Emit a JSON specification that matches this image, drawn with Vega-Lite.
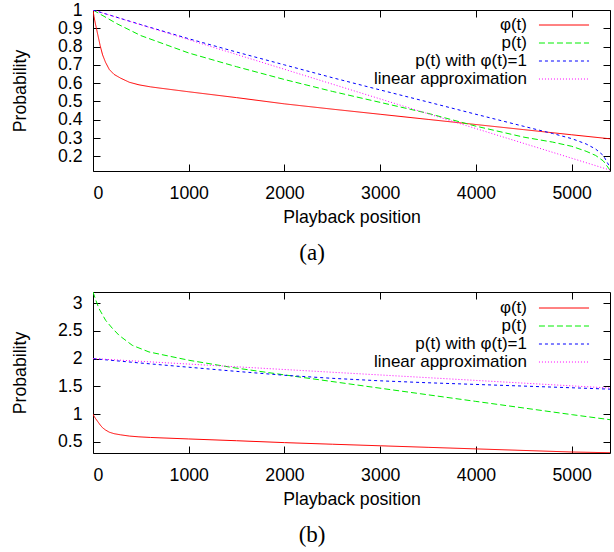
{
  "$schema": "https://vega.github.io/schema/vega-lite/v6.json",
  "padding": {"left": 10, "top": 0, "right": 0, "bottom": 0},
  "spacing": 22,
  "config": {
    "font": "Liberation Sans",
    "view": {"stroke": "#000000", "strokeWidth": 1},
    "axis": {
      "labelFont": "Liberation Sans", "labelFontSize": 17.7, "labelColor": "#000000",
      "titleFont": "Liberation Sans", "titleFontSize": 17.7, "titleFontWeight": "normal", "titleColor": "#000000",
      "domain": false, "grid": false, "tickColor": "#000000", "tickSize": -7, "tickWidth": 1
    }
  },
  "datasets": {
    "legend": [{"series": "φ(t)"}, {"series": "p(t)"}, {"series": "p(t) with φ(t)=1"}, {"series": "linear approximation"}],
    "a": [
      {"series": "φ(t)", "t": 0, "v": 1.0}, {"series": "φ(t)", "t": 10, "v": 0.965}, {"series": "φ(t)", "t": 25, "v": 0.925}, {"series": "φ(t)", "t": 50, "v": 0.865}, {"series": "φ(t)", "t": 75, "v": 0.805}, {"series": "φ(t)", "t": 100, "v": 0.755}, {"series": "φ(t)", "t": 130, "v": 0.715}, {"series": "φ(t)", "t": 170, "v": 0.675}, {"series": "φ(t)", "t": 220, "v": 0.648}, {"series": "φ(t)", "t": 290, "v": 0.627}, {"series": "φ(t)", "t": 380, "v": 0.605}, {"series": "φ(t)", "t": 480, "v": 0.591}, {"series": "φ(t)", "t": 600, "v": 0.58}, {"series": "φ(t)", "t": 700, "v": 0.573}, {"series": "φ(t)", "t": 1000, "v": 0.553}, {"series": "φ(t)", "t": 1500, "v": 0.521}, {"series": "φ(t)", "t": 2000, "v": 0.487}, {"series": "φ(t)", "t": 2500, "v": 0.458}, {"series": "φ(t)", "t": 3000, "v": 0.43}, {"series": "φ(t)", "t": 3500, "v": 0.402}, {"series": "φ(t)", "t": 4000, "v": 0.374}, {"series": "φ(t)", "t": 4500, "v": 0.346}, {"series": "φ(t)", "t": 5000, "v": 0.318}, {"series": "φ(t)", "t": 5400, "v": 0.296},
      {"series": "p(t)", "t": 0, "v": 1.0}, {"series": "p(t)", "t": 250, "v": 0.925}, {"series": "p(t)", "t": 500, "v": 0.86}, {"series": "p(t)", "t": 1000, "v": 0.765}, {"series": "p(t)", "t": 1500, "v": 0.69}, {"series": "p(t)", "t": 2000, "v": 0.62}, {"series": "p(t)", "t": 2500, "v": 0.555}, {"series": "p(t)", "t": 3000, "v": 0.495}, {"series": "p(t)", "t": 3500, "v": 0.435}, {"series": "p(t)", "t": 4000, "v": 0.365}, {"series": "p(t)", "t": 4500, "v": 0.305}, {"series": "p(t)", "t": 4800, "v": 0.278}, {"series": "p(t)", "t": 5000, "v": 0.255}, {"series": "p(t)", "t": 5150, "v": 0.228}, {"series": "p(t)", "t": 5250, "v": 0.205}, {"series": "p(t)", "t": 5330, "v": 0.175}, {"series": "p(t)", "t": 5400, "v": 0.125},
      {"series": "p(t) with φ(t)=1", "t": 0, "v": 1.0}, {"series": "p(t) with φ(t)=1", "t": 500, "v": 0.92}, {"series": "p(t) with φ(t)=1", "t": 1000, "v": 0.843}, {"series": "p(t) with φ(t)=1", "t": 1500, "v": 0.77}, {"series": "p(t) with φ(t)=1", "t": 2000, "v": 0.7}, {"series": "p(t) with φ(t)=1", "t": 2500, "v": 0.63}, {"series": "p(t) with φ(t)=1", "t": 3000, "v": 0.563}, {"series": "p(t) with φ(t)=1", "t": 3500, "v": 0.497}, {"series": "p(t) with φ(t)=1", "t": 4000, "v": 0.43}, {"series": "p(t) with φ(t)=1", "t": 4500, "v": 0.364}, {"series": "p(t) with φ(t)=1", "t": 4800, "v": 0.325}, {"series": "p(t) with φ(t)=1", "t": 5000, "v": 0.297}, {"series": "p(t) with φ(t)=1", "t": 5150, "v": 0.268}, {"series": "p(t) with φ(t)=1", "t": 5250, "v": 0.24}, {"series": "p(t) with φ(t)=1", "t": 5330, "v": 0.205}, {"series": "p(t) with φ(t)=1", "t": 5400, "v": 0.14},
      {"series": "linear approximation", "t": 0, "v": 1.0}, {"series": "linear approximation", "t": 5400, "v": 0.125}
    ],
    "b": [
      {"series": "φ(t)", "t": 0, "v": 1.0}, {"series": "φ(t)", "t": 10, "v": 0.965}, {"series": "φ(t)", "t": 25, "v": 0.925}, {"series": "φ(t)", "t": 50, "v": 0.865}, {"series": "φ(t)", "t": 75, "v": 0.805}, {"series": "φ(t)", "t": 100, "v": 0.755}, {"series": "φ(t)", "t": 130, "v": 0.715}, {"series": "φ(t)", "t": 170, "v": 0.675}, {"series": "φ(t)", "t": 220, "v": 0.648}, {"series": "φ(t)", "t": 290, "v": 0.627}, {"series": "φ(t)", "t": 380, "v": 0.605}, {"series": "φ(t)", "t": 480, "v": 0.591}, {"series": "φ(t)", "t": 600, "v": 0.58}, {"series": "φ(t)", "t": 700, "v": 0.573}, {"series": "φ(t)", "t": 1000, "v": 0.553}, {"series": "φ(t)", "t": 1500, "v": 0.521}, {"series": "φ(t)", "t": 2000, "v": 0.487}, {"series": "φ(t)", "t": 2500, "v": 0.458}, {"series": "φ(t)", "t": 3000, "v": 0.43}, {"series": "φ(t)", "t": 3500, "v": 0.402}, {"series": "φ(t)", "t": 4000, "v": 0.374}, {"series": "φ(t)", "t": 4500, "v": 0.346}, {"series": "φ(t)", "t": 5000, "v": 0.318}, {"series": "φ(t)", "t": 5400, "v": 0.305},
      {"series": "p(t)", "t": 0, "v": 3.2}, {"series": "p(t)", "t": 30, "v": 3.05}, {"series": "p(t)", "t": 63, "v": 2.9}, {"series": "p(t)", "t": 132, "v": 2.69}, {"series": "p(t)", "t": 200, "v": 2.55}, {"series": "p(t)", "t": 272, "v": 2.42}, {"series": "p(t)", "t": 410, "v": 2.24}, {"series": "p(t)", "t": 585, "v": 2.12}, {"series": "p(t)", "t": 1003, "v": 1.97}, {"series": "p(t)", "t": 1455, "v": 1.84}, {"series": "p(t)", "t": 2152, "v": 1.67}, {"series": "p(t)", "t": 2987, "v": 1.47}, {"series": "p(t)", "t": 3997, "v": 1.23}, {"series": "p(t)", "t": 5006, "v": 0.99}, {"series": "p(t)", "t": 5400, "v": 0.9},
      {"series": "p(t) with φ(t)=1", "t": 0, "v": 2.0}, {"series": "p(t) with φ(t)=1", "t": 500, "v": 1.92}, {"series": "p(t) with φ(t)=1", "t": 1000, "v": 1.845}, {"series": "p(t) with φ(t)=1", "t": 1500, "v": 1.77}, {"series": "p(t) with φ(t)=1", "t": 2000, "v": 1.7}, {"series": "p(t) with φ(t)=1", "t": 2500, "v": 1.645}, {"series": "p(t) with φ(t)=1", "t": 3000, "v": 1.6}, {"series": "p(t) with φ(t)=1", "t": 3500, "v": 1.565}, {"series": "p(t) with φ(t)=1", "t": 4000, "v": 1.535}, {"series": "p(t) with φ(t)=1", "t": 4500, "v": 1.505}, {"series": "p(t) with φ(t)=1", "t": 5000, "v": 1.475}, {"series": "p(t) with φ(t)=1", "t": 5400, "v": 1.45},
      {"series": "linear approximation", "t": 0, "v": 2.0}, {"series": "linear approximation", "t": 5400, "v": 1.47}
    ]
  },
  "vconcat": [
    {
      "width": 517, "height": 161,
      "title": {"text": "(a)", "orient": "bottom", "font": "Liberation Serif", "fontSize": 23, "fontWeight": "normal", "color": "#000000", "anchor": "middle", "frame": "bounds", "offset": 16},
      "layer": [
        {
          "data": {"name": "a"},
          "mark": {"type": "line", "strokeWidth": 1, "clip": true},
          "encoding": {
            "x": {"field": "t", "type": "quantitative", "scale": {"domain": [0, 5400], "nice": false, "zero": false},
                  "axis": {"title": "Playback position", "values": [0, 1000, 2000, 3000, 4000, 5000], "format": "d", "labelPadding": 20, "titlePadding": 7}},
            "y": {"field": "v", "type": "quantitative", "scale": {"domain": [0.12, 1], "nice": false, "zero": false},
                  "axis": {"title": "Probability", "values": [0.2, 0.3, 0.4, 0.5, 0.6, 0.7, 0.8, 0.9, 1], "format": "~g", "labelPadding": 18, "titlePadding": 28}},
            "color": {"field": "series", "type": "nominal",
                      "scale": {"domain": ["φ(t)", "p(t)", "p(t) with φ(t)=1", "linear approximation"], "range": ["#ff0000", "#00ee00", "#0000ff", "#ff00ff"]},
                      "legend": null},
            "strokeDash": {"field": "series", "type": "nominal",
                      "scale": {"domain": ["φ(t)", "p(t)", "p(t) with φ(t)=1", "linear approximation"], "range": [[1, 0], [6, 3], [3, 3], [1, 2]]},
                      "legend": null}
          }
        },
        {
          "data": {"name": "a"},
          "mark": {"type": "point", "opacity": 0},
          "encoding": {
            "x": {"field": "t", "type": "quantitative", "scale": {"domain": [0, 5400], "nice": false, "zero": false},
                  "axis": {"orient": "top", "title": null, "labels": false, "values": [0, 1000, 2000, 3000, 4000, 5000]}},
            "y": {"field": "v", "type": "quantitative", "scale": {"domain": [0.12, 1], "nice": false, "zero": false},
                  "axis": {"orient": "right", "title": null, "labels": false, "values": [0.2, 0.3, 0.4, 0.5, 0.6, 0.7, 0.8, 0.9, 1]}}
          }
        },
        {
          "data": {"name": "legend"},
          "mark": {"type": "text", "align": "right", "baseline": "middle", "font": "Liberation Sans", "fontSize": 17, "color": "#000000"},
          "encoding": {
            "x": {"datum": 4533, "type": "quantitative", "axis": null},
            "y": {"field": "series", "type": "nominal", "sort": null, "axis": null,
                  "scale": {"type": "point", "domain": ["φ(t)", "p(t)", "p(t) with φ(t)=1", "linear approximation"], "range": [15, 69], "padding": 0}},
            "text": {"field": "series"}
          }
        },
        {
          "data": {"name": "legend"},
          "mark": {"type": "rule", "strokeWidth": 1},
          "encoding": {
            "x": {"datum": 4658, "type": "quantitative", "axis": null},
            "x2": {"datum": 5181},
            "y": {"field": "series", "type": "nominal", "sort": null, "axis": null,
                  "scale": {"type": "point", "domain": ["φ(t)", "p(t)", "p(t) with φ(t)=1", "linear approximation"], "range": [15, 69], "padding": 0}},
            "color": {"field": "series", "type": "nominal", "legend": null},
            "strokeDash": {"field": "series", "type": "nominal", "legend": null}
          }
        }
      ],
      "resolve": {"scale": {"y": "independent"}, "axis": {"x": "independent", "y": "independent"}}
    },
    {
      "width": 517, "height": 161,
      "title": {"text": "(b)", "orient": "bottom", "font": "Liberation Serif", "fontSize": 23, "fontWeight": "normal", "color": "#000000", "anchor": "middle", "frame": "bounds", "offset": 16},
      "layer": [
        {
          "data": {"name": "b"},
          "mark": {"type": "line", "strokeWidth": 1, "clip": true},
          "encoding": {
            "x": {"field": "t", "type": "quantitative", "scale": {"domain": [0, 5400], "nice": false, "zero": false},
                  "axis": {"title": "Playback position", "values": [0, 1000, 2000, 3000, 4000, 5000], "format": "d", "labelPadding": 20, "titlePadding": 7}},
            "y": {"field": "v", "type": "quantitative", "scale": {"domain": [0.3, 3.2], "nice": false, "zero": false},
                  "axis": {"title": "Probability", "values": [0.5, 1, 1.5, 2, 2.5, 3], "format": "~g", "labelPadding": 18, "titlePadding": 28}},
            "color": {"field": "series", "type": "nominal",
                      "scale": {"domain": ["φ(t)", "p(t)", "p(t) with φ(t)=1", "linear approximation"], "range": ["#ff0000", "#00ee00", "#0000ff", "#ff00ff"]},
                      "legend": null},
            "strokeDash": {"field": "series", "type": "nominal",
                      "scale": {"domain": ["φ(t)", "p(t)", "p(t) with φ(t)=1", "linear approximation"], "range": [[1, 0], [6, 3], [3, 3], [1, 2]]},
                      "legend": null}
          }
        },
        {
          "data": {"name": "b"},
          "mark": {"type": "point", "opacity": 0},
          "encoding": {
            "x": {"field": "t", "type": "quantitative", "scale": {"domain": [0, 5400], "nice": false, "zero": false},
                  "axis": {"orient": "top", "title": null, "labels": false, "values": [0, 1000, 2000, 3000, 4000, 5000]}},
            "y": {"field": "v", "type": "quantitative", "scale": {"domain": [0.3, 3.2], "nice": false, "zero": false},
                  "axis": {"orient": "right", "title": null, "labels": false, "values": [0.5, 1, 1.5, 2, 2.5, 3]}}
          }
        },
        {
          "data": {"name": "legend"},
          "mark": {"type": "text", "align": "right", "baseline": "middle", "font": "Liberation Sans", "fontSize": 17, "color": "#000000"},
          "encoding": {
            "x": {"datum": 4533, "type": "quantitative", "axis": null},
            "y": {"field": "series", "type": "nominal", "sort": null, "axis": null,
                  "scale": {"type": "point", "domain": ["φ(t)", "p(t)", "p(t) with φ(t)=1", "linear approximation"], "range": [16, 70], "padding": 0}},
            "text": {"field": "series"}
          }
        },
        {
          "data": {"name": "legend"},
          "mark": {"type": "rule", "strokeWidth": 1},
          "encoding": {
            "x": {"datum": 4658, "type": "quantitative", "axis": null},
            "x2": {"datum": 5181},
            "y": {"field": "series", "type": "nominal", "sort": null, "axis": null,
                  "scale": {"type": "point", "domain": ["φ(t)", "p(t)", "p(t) with φ(t)=1", "linear approximation"], "range": [16, 70], "padding": 0}},
            "color": {"field": "series", "type": "nominal", "legend": null},
            "strokeDash": {"field": "series", "type": "nominal", "legend": null}
          }
        }
      ],
      "resolve": {"scale": {"y": "independent"}, "axis": {"x": "independent", "y": "independent"}}
    }
  ]
}
